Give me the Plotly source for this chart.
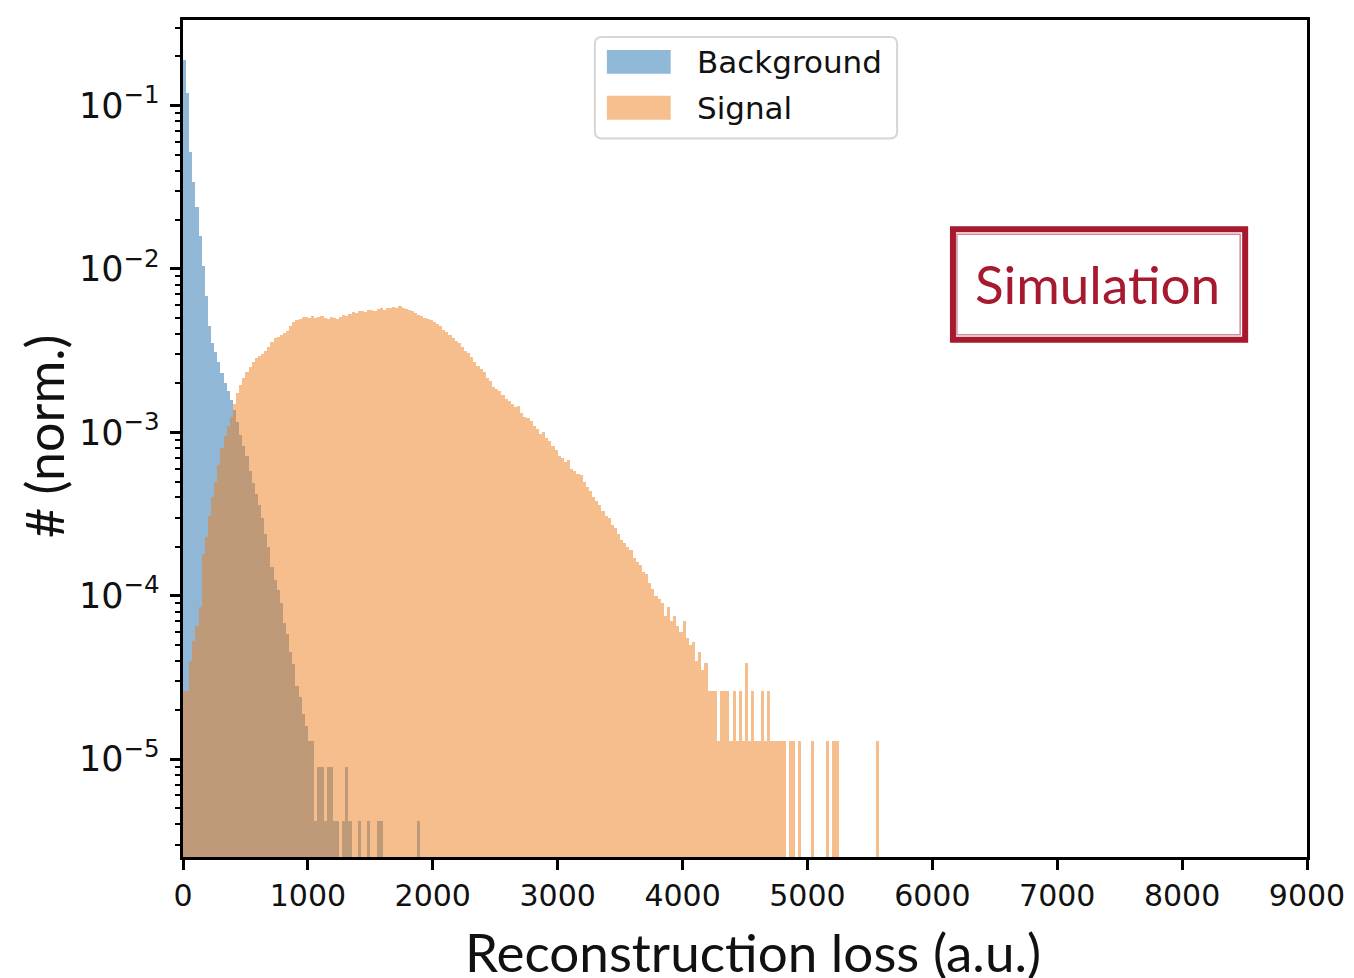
import numpy as np
import plotly.graph_objects as go

# ---------------- data (normalized counts, in units of 1e-5) ----------------
bin_width = 25  # reconstruction-loss units per bin
unit = 1e-5

background = [
    19000, 12000, 5200, 3400, 2400, 1600, 1050, 680, 450, 350,
    310, 270, 230, 200, 180, 158, 138, 115, 97, 82,
    72, 58, 49, 42, 36, 30, 24, 20, 15, 12.5,
    10.8, 9.0, 6.8, 5.8, 4.5, 3.8, 2.8, 2.4, 1.9, 1.6,
    1.3, 1.3, 0.42, 0.9, 0.9, 0.42, 0.9, 0.9, 0.42, 0.42,
    0, 0.42, 0.9, 0.42, 0, 0, 0.42, 0, 0, 0.42,
    0, 0, 0.42, 0.42, 0, 0, 0, 0, 0, 0,
    0, 0, 0, 0, 0, 0.42,
]

signal = [
    2.6, 2.6, 4.0, 5.3, 6.5, 8.5, 18, 23, 31, 40,
    50, 63, 80, 95, 110, 125, 150, 175, 195, 215,
    235, 250, 270, 285, 295, 300, 315, 335, 355, 380,
    385, 395, 405, 420, 450, 475, 490, 495, 510, 505,
    500, 512, 498, 505, 515, 500, 495, 510, 500, 495,
    505, 520, 515, 530, 545, 540, 550, 555, 545, 560,
    565, 555, 570, 575, 565, 580, 575, 585, 580, 590,
    575, 570, 560, 550, 535, 525, 515, 500, 495, 485,
    475, 460, 445, 425, 410, 395, 380, 365, 350, 335,
    315, 305, 290, 270, 255, 245, 235, 215, 205, 190,
    185, 178, 170, 160, 155, 150, 143, 145, 132, 125,
    122, 118, 110, 105, 98, 100, 93, 88, 82, 78,
    72, 70, 66, 68, 60, 58, 56, 55, 50, 46,
    44, 40, 38, 36, 33, 31, 30, 27, 26, 24,
    22, 21, 20, 19, 17, 16, 15.5, 14, 13.5, 12,
    11, 10, 9.5, 9, 7.5, 8.5, 7, 7.5, 6.5, 6,
    7, 5.5, 5, 5.2, 4, 4.5, 3.5, 3.9, 2.6, 2.6,
    2.6, 1.3, 2.6, 2.6, 2.6, 1.3, 2.6, 1.3, 2.6, 1.3,
    3.9, 1.3, 2.6, 1.3, 1.3, 2.6, 1.3, 2.6, 1.3, 1.3,
    1.3, 1.3, 1.3, 0, 1.3, 1.3, 0, 1.3, 0, 0,
    0, 1.3, 0, 0, 0, 0, 1.3, 0, 1.3, 1.3,
    0, 0, 0, 0, 0, 0, 0, 0, 0, 0,
    0, 0, 1.3,
]

x_ticks = [0, 1000, 2000, 3000, 4000, 5000, 6000, 7000, 8000, 9000]
legend_labels = ["Background", "Signal"]
x_title = "Reconstruction loss (a.u.)"
y_title = "# (norm.)"
badge_text = "Simulation"


def to_series(vals):
    centers = np.arange(len(vals)) * bin_width + bin_width / 2
    ys = [v * unit if v > 0 else None for v in vals]
    return centers, ys


bx, by = to_series(background)
sx, sy = to_series(signal)

BLUE = "#2373af"
ORANGE = "#ef7d1d"

fig = go.Figure()
fig.add_trace(go.Bar(x=bx, y=by, width=bin_width, marker=dict(color=BLUE, line=dict(width=0)),
                     opacity=0.5, name=legend_labels[0], showlegend=False))
fig.add_trace(go.Bar(x=sx, y=sy, width=bin_width, marker=dict(color=ORANGE, line=dict(width=0)),
                     opacity=0.5, name=legend_labels[1], showlegend=False))

# page offset (body margin of the html page)
OFF = 8
W, H = 1354 - OFF, 978 - OFF
# plot-area geometry in target-window pixels
L, R, T, B = 183, 1310, 17, 857


def fx(px):
    return (px - L) / (R - L)


def fy(py):
    return (B - py) / (B - T)


xtickfont = dict(family="DejaVu Sans", size=30, color="#111111")
ytickfont = dict(family="DejaVu Sans", size=28, color="#111111")

fig.update_layout(
    width=W, height=H,
    margin=dict(l=L - OFF, r=(W + OFF) - R, t=T - OFF, b=(H + OFF) - B, pad=0),
    paper_bgcolor="white", plot_bgcolor="white",
    barmode="overlay", bargap=0,
    showlegend=False,
    xaxis=dict(
        range=[0, 9000], tickmode="array", tickvals=x_ticks,
        ticktext=[str(v) for v in x_ticks],
        showgrid=False, zeroline=False,
        showline=True, linecolor="black", linewidth=2.5, mirror=True,
        ticks="outside", ticklen=10, tickwidth=2.5, tickcolor="black",
        tickfont=xtickfont,
    ),
    yaxis=dict(
        type="log", range=[np.log10(2.52e-6), np.log10(0.334)],
        tickmode="linear", tick0=0, dtick=1, exponentformat="power",
        showgrid=False, zeroline=False,
        showline=True, linecolor="black", linewidth=2.5, mirror=True,
        ticks="outside", ticklen=10, tickwidth=2.5, tickcolor="black",
        tickfont=ytickfont, ticklabelstandoff=5,
        minor=dict(ticks="outside", ticklen=5, tickwidth=1.5, tickcolor="black", dtick="D1", showgrid=False),
    ),
)

shapes = []
annotations = []


def rounded_rect(x0, y0, x1, y1, r):
    # pixel coords -> paper coords path with rounded corners
    pts = [
        f"M{fx(x0 + r)},{fy(y0)}", f"L{fx(x1 - r)},{fy(y0)}", f"Q{fx(x1)},{fy(y0)} {fx(x1)},{fy(y0 + r)}",
        f"L{fx(x1)},{fy(y1 - r)}", f"Q{fx(x1)},{fy(y1)} {fx(x1 - r)},{fy(y1)}",
        f"L{fx(x0 + r)},{fy(y1)}", f"Q{fx(x0)},{fy(y1)} {fx(x0)},{fy(y1 - r)}",
        f"L{fx(x0)},{fy(y0 + r)}", f"Q{fx(x0)},{fy(y0)} {fx(x0 + r)},{fy(y0)}", "Z",
    ]
    return " ".join(pts)


# legend box
shapes.append(dict(type="path", xref="paper", yref="paper", path=rounded_rect(596, 34, 899, 136, 7),
                   line=dict(color="#d6d6d6", width=2), fillcolor="white", layer="above"))
shapes.append(dict(type="rect", xref="paper", yref="paper",
                   x0=fx(608), x1=fx(672), y0=fy(71), y1=fy(47),
                   line=dict(width=0), fillcolor="#8fb9d7", layer="above"))
shapes.append(dict(type="rect", xref="paper", yref="paper",
                   x0=fx(608), x1=fx(672), y0=fy(117), y1=fy(93),
                   line=dict(width=0), fillcolor="#f7be8e", layer="above"))
annotations.append(dict(text=legend_labels[0], xref="paper", yref="paper", x=fx(696), y=fy(59),
                        xanchor="left", yanchor="middle", showarrow=False,
                        font=dict(family="DejaVu Sans", size=31, color="#111111")))
annotations.append(dict(text=legend_labels[1], xref="paper", yref="paper", x=fx(696), y=fy(105),
                        xanchor="left", yanchor="middle", showarrow=False,
                        font=dict(family="DejaVu Sans", size=31, color="#111111")))

# Simulation badge
RED = "#a6192e"
shapes.append(dict(type="rect", xref="paper", yref="paper",
                   x0=fx(955), x1=fx(1248), y0=fy(338), y1=fy(227),
                   line=dict(color=RED, width=6), fillcolor="rgba(0,0,0,0)", layer="above"))
shapes.append(dict(type="rect", xref="paper", yref="paper",
                   x0=fx(959), x1=fx(1243), y0=fy(333), y1=fy(232),
                   line=dict(color=RED, width=1.5), fillcolor="rgba(0,0,0,0)", opacity=0.5, layer="above"))
annotations.append(dict(text=badge_text, xref="paper", yref="paper", x=fx(1100), y=fy(281),
                        xanchor="center", yanchor="middle", showarrow=False,
                        font=dict(family="Lato", size=53, color=RED)))

# axis titles
annotations.append(dict(text=x_title, xref="paper", yref="paper", x=fx(755), y=fy(952),
                        xanchor="center", yanchor="middle", showarrow=False,
                        font=dict(family="Lato", size=53, color="#111111")))
annotations.append(dict(text=y_title, xref="paper", yref="paper", x=fx(43), y=fy(435),
                        xanchor="center", yanchor="middle", showarrow=False, textangle=-90,
                        font=dict(family="Lato", size=52, color="#111111")))

fig.update_layout(shapes=shapes, annotations=annotations)

fig.write_html("out.html")
